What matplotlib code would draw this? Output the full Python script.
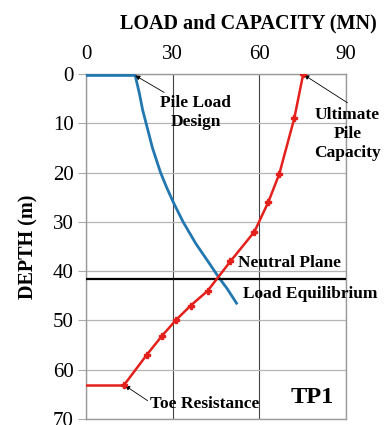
import matplotlib
matplotlib.use("Agg")
import matplotlib.pyplot as plt

# pile load design curve (load MN, depth m)
load_depth = [0.3, 0.3, 1, 4, 7.3, 10, 15, 20, 23, 26, 30, 34.4, 38, 41.3, 43.5, 46.5]
load_mn = [0, 17, 17.3, 18.5, 19.6, 20.8, 23.0, 25.8, 27.9, 30.2, 33.6, 38.0, 42.2, 46.0, 48.8, 52.1]

# ultimate pile capacity (marked points)
cap_depth = [0, 9, 20.3, 26, 32, 38, 44, 47, 50, 53.2, 57, 63]
cap_mn = [75.2, 72.1, 66.9, 63.1, 58.3, 50.0, 42.1, 36.2, 31.0, 26.2, 21.0, 13.3]
toe_depth = [63, 63]
toe_mn = [13.3, 0]

neutral_plane = 41.5
x_ticks = [0, 30, 60, 90]
y_ticks = [0, 10, 20, 30, 40, 50, 60, 70]

plt.rcParams["font.family"] = ["Liberation Serif", "DejaVu Serif"]

fig = plt.figure(figsize=(3.84, 4.25), dpi=100)
ax = fig.add_axes([0.224, 0.014, 0.677, 0.812])

ax.plot(load_mn, load_depth, color="#2277b0", lw=2, zorder=3)
ax.plot(toe_mn, toe_depth, color="#e3201b", lw=1.8, zorder=3)
ax.plot(cap_mn, cap_depth, color="#e3201b", lw=1.8, marker="P", ms=4.5,
        mec="#e3201b", zorder=4)
ax.axhline(neutral_plane, color="black", lw=1.6, zorder=3)

ax.set_xlim(0, 90)
ax.set_ylim(70, 0)
ax.set_xticks(x_ticks)
ax.set_yticks(y_ticks)
ax.xaxis.tick_top()
ax.xaxis.set_label_position("top")
ax.tick_params(axis="x", length=0, labelsize=15, pad=7)
ax.tick_params(axis="y", length=6, color="#aaaaaa", labelsize=15, pad=3)
ax.set_xlabel("LOAD and CAPACITY (MN)", fontsize=14.5, fontweight="bold",
              labelpad=12, x=0.625)
ax.set_ylabel("DEPTH (m)", fontsize=14.5, fontweight="bold", labelpad=10)

ax.grid(axis="y", color="#b5b5b5", lw=0.9)
ax.grid(axis="x", color="#444444", lw=0.8)
for s in ax.spines.values():
    s.set_color("#9a9a9a")
    s.set_linewidth(1)

arrow = dict(arrowstyle="-|>", color="black", lw=0.6, mutation_scale=7,
             shrinkA=0, shrinkB=0)
ax.annotate("Pile Load\nDesign", xy=(17, 0.3), xytext=(38, 7.8),
            ha="center", va="center", fontsize=12.5, fontweight="bold",
            linespacing=1.2, arrowprops=dict(arrow, relpos=(0.08, 1.05)))
ax.annotate("Ultimate\nPile\nCapacity", xy=(75.5, 0.2), xytext=(90.5, 12.2),
            ha="center", va="center", fontsize=12.5, fontweight="bold",
            linespacing=1.25, arrowprops=dict(arrow, relpos=(0.5, 1.08)))
ax.annotate("Toe Resistance", xy=(13.5, 63.2), xytext=(41.2, 67.0),
            ha="center", va="center", fontsize=12.5, fontweight="bold",
            arrowprops=dict(arrow, relpos=(-0.02, 0.7)))
ax.text(52.5, 38.4, "Neutral Plane", fontsize=12.5, fontweight="bold", va="center")
ax.text(54.5, 44.7, "Load Equilibrium", fontsize=12.5, fontweight="bold", va="center")
ax.text(70.8, 65.6, "TP1", fontsize=17.5, fontweight="bold", va="center")

fig.savefig("out.png", dpi=100)
